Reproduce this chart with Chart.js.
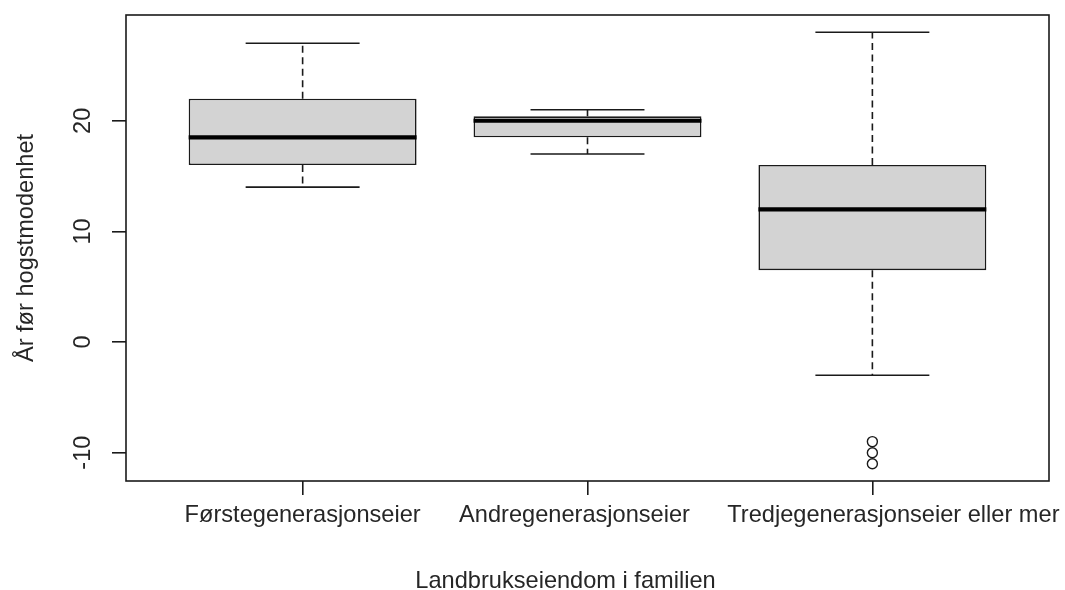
<!DOCTYPE html>
<html>
<head>
<meta charset="utf-8">
<script src="https://cdn.jsdelivr.net/npm/chart.js@4.4.1/dist/chart.umd.min.js"></script>
<style>
  html, body { margin: 0; padding: 0; background: #fff; }
</style>
</head>
<body>
<canvas id="boxChart" width="1065" height="590"></canvas>
<script>
// values
var categories = ["Førstegenerasjonseier", "Andregenerasjonseier", "Tredjegenerasjonseier eller mer"];
var lowWhisker = [14, 17, -3];
var q1 = [16, 18.5, 6.5];
var median = [18.5, 20, 12];
var q3 = [22, 20.4, 16];
var highWhisker = [27, 21, 28];
var outlierGroup = [3, 3, 3];
var outlierValue = [-9, -10, -11];
var yTicks = [-10, 0, 10, 20];
var xTitle = "Landbrukseiendom i familien";
var yTitle = "År før hogstmodenhet";

var positions = categories.map(function (c, i) { return i + 1; });

// R style axis limits: data range plus 4% each side
var allValues = lowWhisker.concat(highWhisker, outlierValue);
var dataMin = Math.min.apply(null, allValues);
var dataMax = Math.max.apply(null, allValues);
var yPad = (dataMax - dataMin) * 0.04;
var xPad = categories.length * 0.04;

// the original figure has its x labels and title a little off centre
var labelShift = [0, -13, 21];
var titleShift = -22;

var ink = "#1a1a1a";
var textInk = "#262626";
var fontFamily = "'Liberation Sans', Arial, sans-serif";
var fontSize = 23.6;
var textFont = { family: fontFamily, size: fontSize };

//whiskers go under the box, medians on top of it
var boxParts = {
    id: "boxParts",
    beforeDatasetsDraw: function (chart) {
        var ctx = chart.ctx;
        var ys = chart.scales.y;
        var bars = chart.getDatasetMeta(0).data;
        ctx.save();
        ctx.strokeStyle = ink;
        ctx.lineWidth = 1.6;
        bars.forEach(function (bar, i) {
            var cap = bar.width / 4;
            ctx.setLineDash([7, 4.5]);
            ctx.beginPath();
            ctx.moveTo(bar.x, ys.getPixelForValue(q3[i]));
            ctx.lineTo(bar.x, ys.getPixelForValue(highWhisker[i]));
            ctx.moveTo(bar.x, ys.getPixelForValue(q1[i]));
            ctx.lineTo(bar.x, ys.getPixelForValue(lowWhisker[i]));
            ctx.stroke();
            ctx.setLineDash([]);
            ctx.beginPath();
            ctx.moveTo(bar.x - cap, ys.getPixelForValue(highWhisker[i]));
            ctx.lineTo(bar.x + cap, ys.getPixelForValue(highWhisker[i]));
            ctx.moveTo(bar.x - cap, ys.getPixelForValue(lowWhisker[i]));
            ctx.lineTo(bar.x + cap, ys.getPixelForValue(lowWhisker[i]));
            ctx.stroke();
        });
        ctx.restore();
    },
    afterDatasetsDraw: function (chart) {
        var ctx = chart.ctx;
        var ys = chart.scales.y;
        var area = chart.chartArea;
        var bars = chart.getDatasetMeta(0).data;
        ctx.save();
        ctx.strokeStyle = "#000";
        ctx.lineWidth = 4.2;
        bars.forEach(function (bar, i) {
            var half = bar.width / 2;
            ctx.beginPath();
            ctx.moveTo(bar.x - half, ys.getPixelForValue(median[i]));
            ctx.lineTo(bar.x + half, ys.getPixelForValue(median[i]));
            ctx.stroke();
        });
        // frame round the plot region
        ctx.lineWidth = 1.6;
        ctx.strokeStyle = ink;
        ctx.strokeRect(area.left, area.top, area.right - area.left, area.bottom - area.top);
        ctx.restore();
    },
    afterDraw: function (chart) {
        // category labels and x title
        var ctx = chart.ctx;
        var xs = chart.scales.x;
        var area = chart.chartArea;
        ctx.save();
        ctx.font = fontSize + "px " + fontFamily;
        ctx.fillStyle = textInk;
        ctx.textAlign = "center";
        ctx.textBaseline = "alphabetic";
        positions.forEach(function (p, i) {
            ctx.fillText(categories[i], xs.getPixelForValue(p) + labelShift[i], area.bottom + 41);
        });
        ctx.fillText(xTitle, (area.left + area.right) / 2 + titleShift, area.bottom + 107);
        ctx.restore();
    }
};

var ctx = document.getElementById("boxChart").getContext("2d");

var chart = new Chart(ctx, {
    type: "bar",
    data: {
        datasets: [
            {
                type: "bar",
                data: positions.map(function (p, i) { return { x: p, y: [q1[i], q3[i]] }; }),
                backgroundColor: "#d3d3d3",
                borderColor: ink,
                borderWidth: 1.6,
                borderSkipped: false,
                barPercentage: 0.8,
                categoryPercentage: 1
            },
            {
                type: "scatter",
                data: outlierGroup.map(function (g, i) { return { x: g, y: outlierValue[i] }; }),
                pointRadius: 5,
                pointBackgroundColor: "rgba(0,0,0,0)",
                pointBorderColor: ink,
                pointBorderWidth: 1.4
            }
        ]
    },
    options: {
        responsive: false,
        animation: false,
        layout: { padding: { top: 15, right: 16, left: 0, bottom: 0 } },
        plugins: {
            legend: { display: false },
            tooltip: { enabled: false }
        },
        scales: {
            x: {
                type: "linear",
                min: 0.5 - xPad,
                max: categories.length + 0.5 + xPad,
                offset: false,
                afterBuildTicks: function (axis) {
                    axis.ticks = positions.map(function (p) { return { value: p }; });
                },
                afterFit: function (axis) {
                    axis.height = 109;
                    axis.paddingLeft = 0;
                    axis.paddingRight = 0;
                },
                ticks: { display: false },
                grid: { drawOnChartArea: false, offset: false, tickLength: 14, color: ink, lineWidth: 1.6 },
                border: { display: false }
            },
            y: {
                type: "linear",
                min: dataMin - yPad,
                max: dataMax + yPad,
                afterBuildTicks: function (axis) {
                    axis.ticks = yTicks.map(function (v) { return { value: v }; });
                },
                afterFit: function (axis) {
                    axis.width = 126;
                    axis.paddingTop = 0;
                    axis.paddingBottom = 0;
                },
                ticks: {
                    minRotation: 90,
                    maxRotation: 90,
                    crossAlign: "center",
                    padding: 11,
                    color: textInk,
                    font: textFont
                },
                grid: { drawOnChartArea: false, tickLength: 14, color: ink, lineWidth: 1.6 },
                border: { display: false },
                title: {
                    display: true,
                    text: yTitle,
                    color: textInk,
                    font: textFont,
                    padding: { top: 12.5, bottom: 0 }
                }
            }
        }
    },
    plugins: [boxParts]
});
</script>
</body>
</html>
